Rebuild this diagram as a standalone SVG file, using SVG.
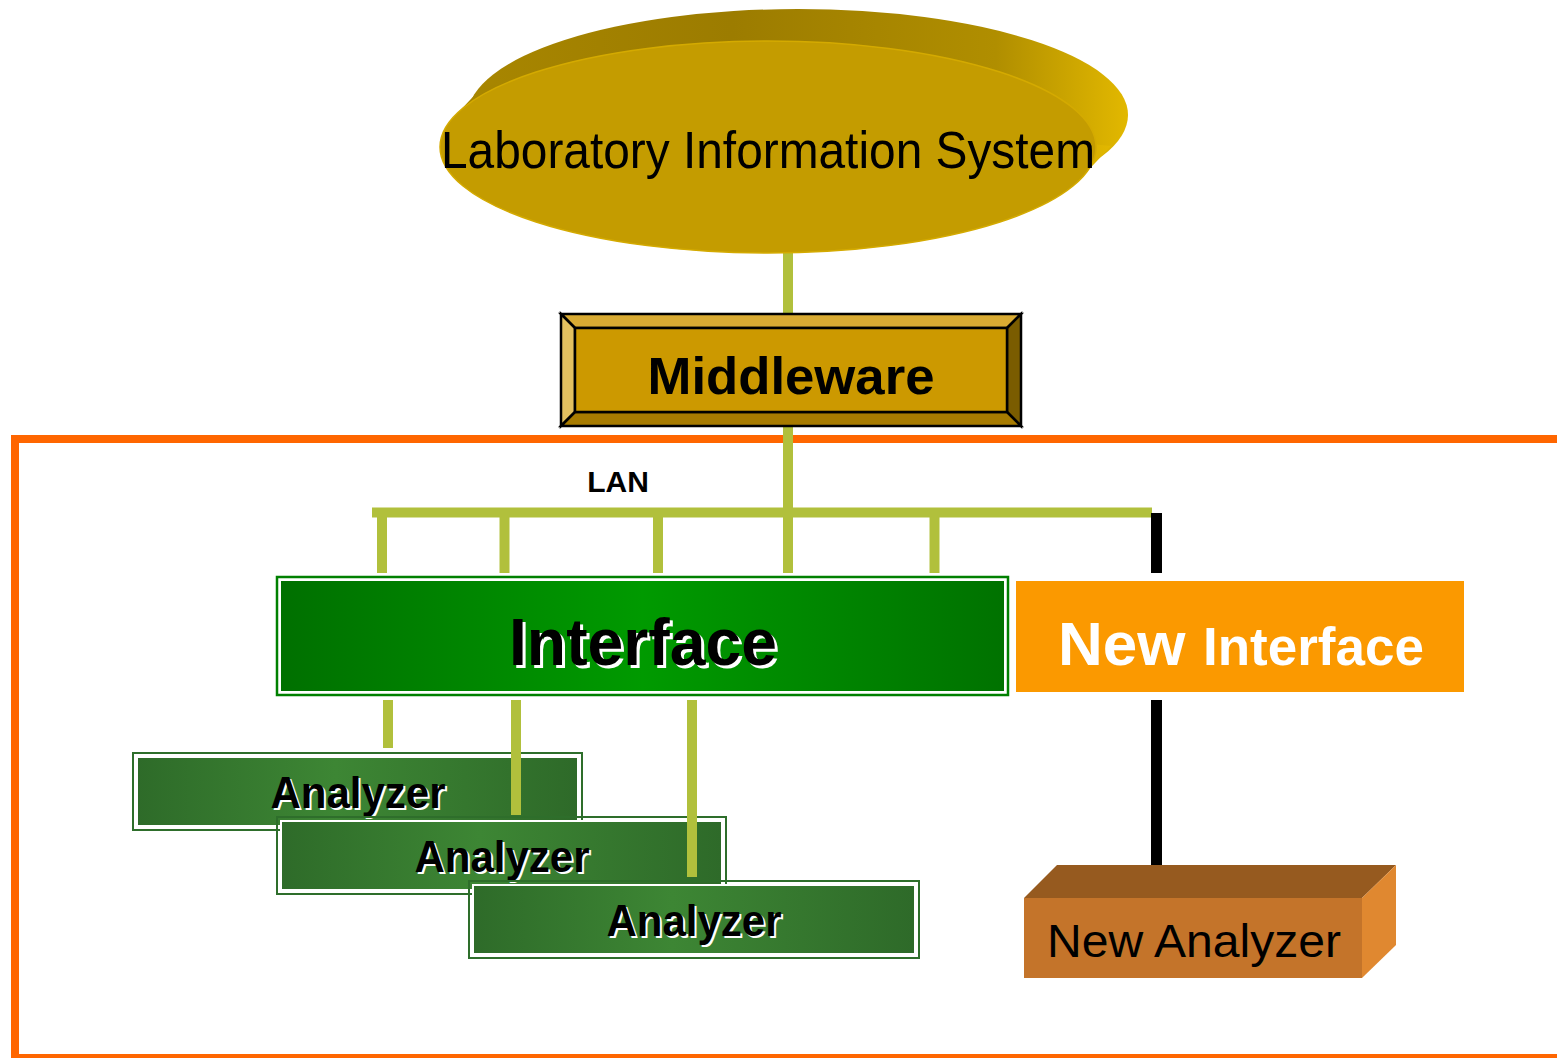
<svg xmlns="http://www.w3.org/2000/svg" width="1557" height="1058" viewBox="0 0 1557 1058">
  <defs>
    <linearGradient id="diskSide" x1="0" y1="0" x2="1" y2="0">
      <stop offset="0" stop-color="#a88600"/>
      <stop offset="0.4" stop-color="#9c7c00"/>
      <stop offset="0.8" stop-color="#b08e00"/>
      <stop offset="1" stop-color="#e2b800"/>
    </linearGradient>
    <linearGradient id="ifaceGrad" x1="0" y1="0" x2="1" y2="0">
      <stop offset="0" stop-color="#007000"/>
      <stop offset="0.5" stop-color="#009a00"/>
      <stop offset="1" stop-color="#007200"/>
    </linearGradient>
    <linearGradient id="anaGrad" x1="0" y1="0" x2="1" y2="0">
      <stop offset="0" stop-color="#2e6b29"/>
      <stop offset="0.45" stop-color="#3d8634"/>
      <stop offset="1" stop-color="#2e6a29"/>
    </linearGradient>
  </defs>
  <style>
    .lan { stroke: #b1c03c; stroke-width: 10; fill: none; }
    .blk { stroke: #000; stroke-width: 11; fill: none; }
    .sans { font-family: "Liberation Sans", Arial, sans-serif; }
    .bold { font-weight: bold; }
    .anaOuter { fill: none; stroke: #2e6e2b; stroke-width: 2; }
    .anaInner { fill: url(#anaGrad); stroke: #ffffff; stroke-width: 2; }
    .anaText { font-family: "Liberation Sans", Arial, sans-serif; font-weight: bold; font-size: 45px; text-anchor: middle; }
  </style>

  <rect x="0" y="0" width="1557" height="1058" fill="#ffffff"/>

  <!-- orange frame -->
  <rect id="frame" x="15" y="439" width="1600" height="619" fill="none" stroke="#ff6600" stroke-width="8"/>

  <!-- connectors -->
  <g id="connectors">
    <line class="lan" x1="788" y1="250" x2="788" y2="316"/>
    <line class="lan" x1="788" y1="424" x2="788" y2="573"/>
    <line class="lan" x1="372" y1="512.5" x2="1152" y2="512.5"/>
    <line class="lan" x1="382" y1="512" x2="382" y2="573"/>
    <line class="lan" x1="504.5" y1="512" x2="504.5" y2="573"/>
    <line class="lan" x1="658" y1="512" x2="658" y2="573"/>
    <line class="lan" x1="934.5" y1="512" x2="934.5" y2="573"/>
    <line class="blk" x1="1156.5" y1="513" x2="1156.5" y2="573"/>
    <line class="blk" x1="1156.5" y1="700" x2="1156.5" y2="866"/>
    <line class="lan" x1="388" y1="700" x2="388" y2="748"/>
  </g>

  <!-- LIS disk -->
  <g id="lis">
    <ellipse cx="798" cy="115" rx="330" ry="106" fill="url(#diskSide)"/>
    <polygon points="455,116 485,84 1111,146 1081,178" fill="url(#diskSide)"/>
    <ellipse cx="768" cy="147" rx="328" ry="106" fill="#c49c00" stroke="#d4aa00" stroke-width="1.5"/>
    <text class="sans" x="441" y="168" font-size="52" textLength="654" lengthAdjust="spacingAndGlyphs">Laboratory Information System</text>
  </g>

  <!-- Middleware -->
  <g id="middleware" stroke="#000" stroke-width="2.5" stroke-linejoin="miter">
    <polygon points="561,314 1021,314 1007,328 575,328" fill="#d9ab33"/>
    <polygon points="561,314 575,328 575,412 561,426" fill="#e3c160"/>
    <polygon points="1021,314 1021,426 1007,412 1007,328" fill="#7a5c00"/>
    <polygon points="561,426 575,412 1007,412 1021,426" fill="#a77b00"/>
    <rect x="575" y="328" width="432" height="84" fill="#cc9900"/>
    <text class="sans bold" x="791" y="394" font-size="52" text-anchor="middle" stroke="none" fill="#000" textLength="287" lengthAdjust="spacingAndGlyphs">Middleware</text>
  </g>

  <!-- LAN label -->
  <text id="lan-label" class="sans bold" x="618" y="492" font-size="30" text-anchor="middle">LAN</text>

  <!-- Interface -->
  <g id="interface">
    <rect x="277" y="577" width="731" height="118" fill="#ffffff" stroke="#008000" stroke-width="2.5"/>
    <rect x="281" y="581" width="723" height="110" fill="url(#ifaceGrad)"/>
    <text class="sans bold" x="646" y="668" font-size="66" text-anchor="middle" fill="#ffffff" textLength="268" lengthAdjust="spacingAndGlyphs">Interface</text>
    <text class="sans bold" x="643" y="665" font-size="66" text-anchor="middle" fill="#000" textLength="268" lengthAdjust="spacingAndGlyphs">Interface</text>
  </g>

  <!-- New Interface -->
  <g id="new-interface">
    <rect x="1016" y="581" width="448" height="111" fill="#fb9900"/>
    <text class="sans bold" y="665" fill="#ffffff"><tspan x="1058" font-size="62">New</tspan><tspan x="1203" font-size="53">Interface</tspan></text>
  </g>

  <!-- Analyzer 1 -->
  <g id="analyzer1">
    <rect class="anaOuter" x="133" y="753" width="449" height="77"/>
    <rect class="anaInner" x="137" y="757" width="441" height="69"/>
    <text class="anaText" x="360" y="810" fill="#ffffff" textLength="175" lengthAdjust="spacingAndGlyphs">Analyzer</text>
    <text class="anaText" x="358" y="808" fill="#000" textLength="175" lengthAdjust="spacingAndGlyphs">Analyzer</text>
  </g>
  <line class="lan" x1="516" y1="700" x2="516" y2="815"/>

  <!-- Analyzer 2 -->
  <g id="analyzer2">
    <rect class="anaOuter" x="277" y="817" width="449" height="77"/>
    <rect class="anaInner" x="281" y="821" width="441" height="69"/>
    <text class="anaText" x="504" y="874" fill="#ffffff" textLength="175" lengthAdjust="spacingAndGlyphs">Analyzer</text>
    <text class="anaText" x="502" y="872" fill="#000" textLength="175" lengthAdjust="spacingAndGlyphs">Analyzer</text>
  </g>
  <line class="lan" x1="692" y1="700" x2="692" y2="877"/>

  <!-- Analyzer 3 -->
  <g id="analyzer3">
    <rect class="anaOuter" x="469" y="881" width="450" height="77"/>
    <rect class="anaInner" x="473" y="885" width="442" height="69"/>
    <text class="anaText" x="696" y="938" fill="#ffffff" textLength="175" lengthAdjust="spacingAndGlyphs">Analyzer</text>
    <text class="anaText" x="694" y="936" fill="#000" textLength="175" lengthAdjust="spacingAndGlyphs">Analyzer</text>
  </g>

  <!-- New Analyzer -->
  <g id="new-analyzer">
    <polygon points="1024,898 1057,865 1396,865 1362,898" fill="#965a1f"/>
    <polygon points="1362,898 1396,865 1396,945 1362,978" fill="#e08830"/>
    <rect x="1024" y="898" width="338" height="80" fill="#c4742a"/>
    <text class="sans" x="1047" y="957" font-size="47" textLength="294" lengthAdjust="spacingAndGlyphs">New Analyzer</text>
  </g>
</svg>
